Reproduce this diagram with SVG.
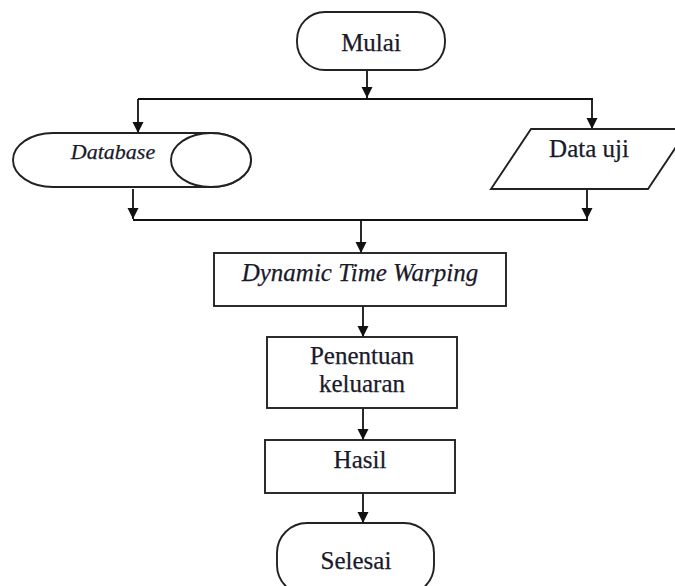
<svg xmlns="http://www.w3.org/2000/svg" width="675" height="586" viewBox="0 0 675 586">
<defs>
<style>
.s{fill:#fff;stroke:#222;stroke-width:1.9}
.c{fill:none;stroke:#111;stroke-width:1.8}
.t{font-family:"Liberation Serif","Times New Roman",serif;font-size:25px;fill:#1a1a2a;stroke:#1a1a2a;stroke-width:0.25;text-anchor:middle}
.i{font-style:italic}
</style>
<marker id="ah" viewBox="0 0 10 10" refX="10" refY="5" markerUnits="userSpaceOnUse" markerWidth="11" markerHeight="12" orient="auto">
<path d="M0,0 L10,5 L0,10 z" fill="#111"/>
</marker>
</defs>
<rect width="675" height="586" fill="#fff"/>
<g id="connectors">
<path class="c" d="M367,70 V98" marker-end="url(#ah)"/>
<path class="c" d="M138,99 H593"/>
<path class="c" d="M138,99 V133" marker-end="url(#ah)"/>
<path class="c" d="M592,99 V129" marker-end="url(#ah)"/>
<path class="c" d="M133,189 V219" marker-end="url(#ah)"/>
<path class="c" d="M587,189 V219" marker-end="url(#ah)"/>
<path class="c" d="M133,220 H588"/>
<path class="c" d="M361,220 V253" marker-end="url(#ah)"/>
<path class="c" d="M363,306 V337" marker-end="url(#ah)"/>
<path class="c" d="M363,408 V440" marker-end="url(#ah)"/>
<path class="c" d="M363,493 V523" marker-end="url(#ah)"/>
</g>
<g id="mulai">
<rect class="s" x="297" y="12" width="148" height="58" rx="28" ry="28"/>
<text class="t" x="371" y="51">Mulai</text>
</g>
<g id="database">
<path class="s" d="M53,133 H211 A40,27 0 0 1 211,187 H53 A40,27 0 0 1 53,133 Z"/>
<ellipse class="s" cx="211" cy="160" rx="40" ry="27"/>
<text class="t i" x="113" y="159" style="font-size:22px">Database</text>
</g>
<g id="datauji">
<polygon class="s" points="531,129 688,129 648,189 491,189"/>
<text class="t" x="589" y="157">Data uji</text>
</g>
<g id="dtw">
<rect class="s" x="214" y="253" width="292" height="53"/>
<text class="t i" x="360" y="281">Dynamic Time Warping</text>
</g>
<g id="penentuan">
<rect class="s" x="267" y="337" width="190" height="71"/>
<text class="t" x="362" y="364">Penentuan</text>
<text class="t" x="362" y="392">keluaran</text>
</g>
<g id="hasil">
<rect class="s" x="265" y="440" width="190" height="53"/>
<text class="t" x="360" y="468">Hasil</text>
</g>
<g id="selesai">
<rect class="s" x="277" y="523" width="157" height="72" rx="30" ry="30"/>
<text class="t" x="356" y="569">Selesai</text>
</g>
</svg>
